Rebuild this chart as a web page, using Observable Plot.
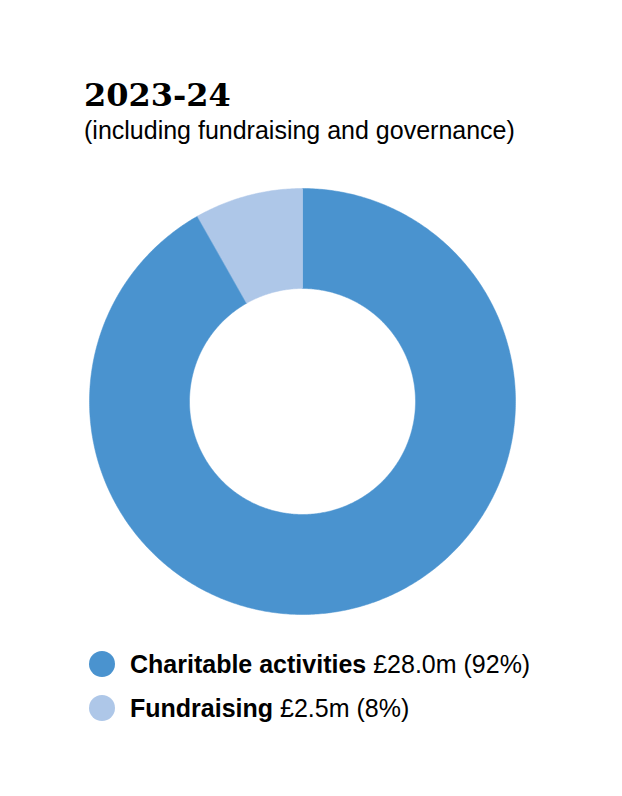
<!DOCTYPE html>
<html><head><meta charset="utf-8">
<script src="https://cdn.jsdelivr.net/npm/d3@7"></script>
<script src="https://cdn.jsdelivr.net/npm/@observablehq/plot@0.6"></script>
<style>
body{margin:0;background:#fff;font-family:"Liberation Sans",Arial,sans-serif;color:#000;}
#wrap{position:relative;width:622px;height:796px;}
#title{position:absolute;left:84px;top:77px;font-family:"DejaVu Serif",serif;font-weight:bold;font-size:32px;line-height:36px;}
#sub{position:absolute;left:84px;top:116px;font-size:25px;line-height:29px;}
#chart{position:absolute;left:0;top:180px;}
#legend{position:absolute;left:89px;top:642px;font-size:25px;}
.row{display:flex;align-items:center;height:44px;}
.dot{width:26px;height:26px;border-radius:50%;margin-right:15px;}
</style></head>
<body><div id="wrap">
<div id="title">2023-24</div>
<div id="sub">(including fundraising and governance)</div>
<div id="chart"></div>
<div id="legend"></div>
</div>
<script>
const categories = ["Charitable activities", "Fundraising"];
const amounts = [28.0, 2.5];
const amountLabels = ["£28.0m", "£2.5m"];
const percentLabels = ["92%", "8%"];
const colors = ["#4A93CF", "#AEC7E8"];

const W = 622, H = 440, cx = 302, cy = 221, R = 213, r = 113;
const total = d3.sum(amounts);
const pts = [];
let a0 = 0;
categories.forEach((c, i) => {
  const a1 = a0 + amounts[i] / total * 2 * Math.PI;
  const n = Math.max(4, Math.ceil((a1 - a0) / 0.01));
  for (let k = 0; k <= n; k++) { const a = a0 + (a1 - a0) * k / n; pts.push({key: c, x: cx + R * Math.sin(a), y: cy - R * Math.cos(a)}); }
  for (let k = n; k >= 0; k--) { const a = a0 + (a1 - a0) * k / n; pts.push({key: c, x: cx + r * Math.sin(a), y: cy - r * Math.cos(a)}); }
  a0 = a1;
});

const plot = Plot.plot({
  width: W, height: H, margin: 0,
  x: {domain: [0, W], range: [0, W], axis: null},
  y: {domain: [0, H], range: [0, H], axis: null},
  marks: categories.map((c, i) => Plot.line(pts.filter(p => p.key === c), {x: "x", y: "y", fill: colors[i], stroke: colors[i], strokeWidth: 0.5, curve: "linear-closed"}))
});
document.getElementById("chart").appendChild(plot);

const leg = document.getElementById("legend");
categories.forEach((c, i) => {
  const row = document.createElement("div"); row.className = "row";
  row.innerHTML = `<div class="dot" style="background:${colors[i]}"></div><span><b>${c}</b> ${amountLabels[i]} (${percentLabels[i]})</span>`;
  leg.appendChild(row);
});
</script></body></html>
